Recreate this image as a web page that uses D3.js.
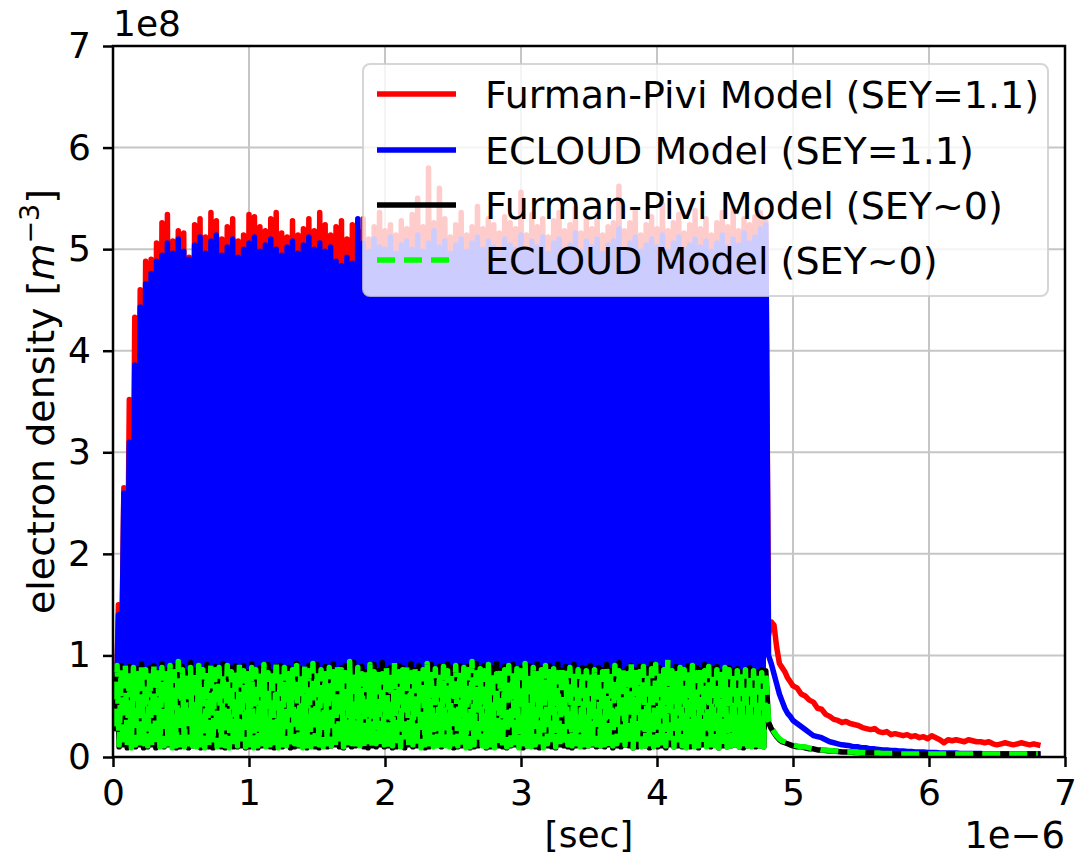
<!DOCTYPE html>
<html><head><meta charset="utf-8">
<script src="https://cdn.jsdelivr.net/npm/d3@7"></script>
<style>body{margin:0;background:#fff;} text{font-family:"DejaVu Sans",sans-serif;}</style>
</head><body><svg id="c" width="1076" height="857"></svg>
<script>
// ---- data (time in 1e-6 s, density in 1e8 m^-3) ----
const xTicks = [0,1,2,3,4,5,6,7];
const yTicks = [0,1,2,3,4,5,6,7];
const seriesNames = ["Furman-Pivi Model (SEY=1.1)","ECLOUD Model (SEY=1.1)","Furman-Pivi Model (SEY~0)","ECLOUD Model (SEY~0)"];
// sampling of the bunch-train part (peak times = start + spacing*i)
const hiStart = 0.04, hiSpacing = 0.04, hiCount = 120;   // SEY=1.1 runs
const loStart = 0.03, loSpacing = 0.03, loCount = 160;   // SEY~0 runs

const redPeaks = [
1.50,2.65,3.52,4.33,4.60,4.88,4.90,5.06,5.26,5.34,
5.08,5.18,5.16,4.92,5.24,5.30,5.12,5.36,5.28,5.10,
5.22,5.30,5.08,5.14,5.34,5.32,5.22,5.18,5.30,5.36,
5.16,5.12,5.28,5.14,5.20,5.30,5.18,5.36,5.24,5.14,
5.22,5.28,5.10,5.24,5.18,5.30,5.10,5.22,5.36,5.18,
5.24,5.14,5.28,5.20,5.34,5.50,5.22,5.80,5.26,5.60,
5.30,5.12,5.24,5.36,5.14,5.22,5.42,5.20,5.30,5.24,
5.16,5.32,5.26,5.20,5.56,5.14,5.34,5.22,5.30,5.12,
5.28,5.36,5.18,5.24,5.40,5.16,5.28,5.20,5.34,5.14,
5.22,5.26,5.62,5.18,5.26,5.38,5.14,5.24,5.32,5.20,
5.44,5.18,5.26,5.34,5.16,5.24,5.38,5.20,5.30,5.14,
5.26,5.36,5.22,5.40,5.18,5.30,5.24,5.32,5.36,5.28];
const redTroughs = [
0.32,0.62,0.70,0.74,0.68,0.76,0.72,0.78,0.70,0.74,
0.77,0.71,0.75,0.69,0.78,0.73,0.70,0.76,0.72,0.74,
0.70,0.77,0.73,0.69,0.75,0.78,0.71,0.74,0.76,0.70,
0.73,0.77,0.70,0.75,0.72,0.78,0.69,0.74,0.76,0.71,
0.75,0.70,0.77,0.73,0.71,0.76,0.74,0.69,0.78,0.72,
0.74,0.71,0.76,0.70,0.77,0.73,0.75,0.69,0.72,0.78,
0.71,0.75,0.73,0.77,0.70,0.74,0.78,0.72,0.69,0.76,
0.73,0.70,0.76,0.74,0.71,0.77,0.69,0.75,0.73,0.78,
0.72,0.76,0.70,0.74,0.78,0.71,0.75,0.73,0.69,0.77,
0.74,0.70,0.77,0.72,0.75,0.69,0.76,0.73,0.78,0.71,
0.75,0.72,0.70,0.77,0.73,0.76,0.71,0.74,0.69,0.78,
0.73,0.76,0.71,0.75,0.70,0.77,0.74,0.72,0.76,0.73];
const bluePeaks = [
1.40,2.60,3.10,3.86,4.43,4.66,4.76,4.88,4.94,5.06,
4.96,5.10,4.98,4.90,5.04,5.12,4.96,5.08,5.14,4.94,
5.02,5.10,4.92,5.00,5.06,5.12,4.98,5.04,5.10,5.00,
4.94,5.02,5.08,4.96,5.04,5.12,5.00,5.06,4.98,5.02,
4.88,4.84,4.92,4.86,5.30,5.06,4.98,5.10,5.02,5.00,
5.12,4.96,5.04,5.08,5.00,5.14,4.98,5.06,5.18,5.02,
5.08,4.96,5.04,5.10,4.98,5.06,5.12,5.00,5.08,5.02,
4.96,5.10,5.04,5.00,5.14,4.98,5.08,5.02,5.12,4.96,
5.06,5.10,5.00,5.04,5.16,4.98,5.08,5.02,5.10,4.96,
5.04,5.08,5.20,5.00,5.06,5.12,4.98,5.04,5.10,5.02,
5.14,4.98,5.06,5.12,5.00,5.04,5.10,5.02,5.08,4.98,
5.06,5.14,5.02,5.10,5.04,5.16,5.06,5.12,5.20,5.24];
const blueTroughs = [
0.30,0.60,0.68,0.72,0.70,0.74,0.71,0.76,0.69,0.73,
0.75,0.70,0.73,0.68,0.76,0.72,0.69,0.74,0.71,0.73,
0.69,0.75,0.72,0.68,0.74,0.76,0.70,0.73,0.75,0.69,
0.72,0.76,0.69,0.74,0.71,0.76,0.68,0.73,0.75,0.70,
0.74,0.69,0.76,0.72,0.70,0.75,0.73,0.68,0.76,0.71,
0.73,0.70,0.75,0.69,0.76,0.72,0.74,0.68,0.71,0.76,
0.70,0.74,0.72,0.76,0.69,0.73,0.76,0.71,0.68,0.75,
0.72,0.69,0.75,0.73,0.70,0.76,0.68,0.74,0.72,0.76,
0.71,0.75,0.69,0.73,0.76,0.70,0.74,0.72,0.68,0.76,
0.73,0.69,0.76,0.71,0.74,0.68,0.75,0.72,0.76,0.70,
0.74,0.71,0.69,0.76,0.72,0.75,0.70,0.73,0.68,0.76,
0.72,0.75,0.70,0.74,0.69,0.76,0.73,0.71,0.75,0.72];
const blackPeaks = [
0.88,0.90,0.86,0.89,0.84,0.87,0.92,0.83,0.88,0.90,
0.84,0.92,0.86,0.88,0.90,0.85,0.89,0.84,0.93,0.86,
0.88,0.84,0.91,0.86,0.89,0.83,0.92,0.85,0.88,0.90,
0.86,0.90,0.84,0.92,0.85,0.88,0.87,0.91,0.84,0.89,
0.90,0.85,0.88,0.84,0.92,0.87,0.83,0.90,0.86,0.91,
0.84,0.89,0.86,0.92,0.85,0.88,0.90,0.84,0.93,0.86,
0.89,0.84,0.87,0.91,0.85,0.93,0.86,0.88,0.84,0.90,
0.88,0.85,0.92,0.86,0.90,0.84,0.88,0.91,0.85,0.89,
0.86,0.92,0.88,0.84,0.90,0.86,0.89,0.85,0.92,0.87,
0.90,0.84,0.88,0.92,0.85,0.89,0.86,0.91,0.84,0.88,
0.86,0.90,0.85,0.92,0.88,0.84,0.90,0.86,0.92,0.85,
0.89,0.86,0.91,0.84,0.88,0.87,0.90,0.85,0.88,0.86,
0.91,0.85,0.88,0.93,0.84,0.87,0.90,0.86,0.89,0.84,
0.87,0.92,0.85,0.88,0.86,0.90,0.84,0.89,0.87,0.85,
0.90,0.84,0.88,0.86,0.91,0.85,0.87,0.89,0.84,0.86,
0.88,0.85,0.87,0.84,0.86,0.88,0.85,0.84,0.86,0.85];
const blackTroughs = [
0.28,0.10,0.12,0.09,0.11,0.10,0.12,0.09,0.10,0.12,
0.09,0.11,0.10,0.12,0.11,0.09,0.10,0.12,0.09,0.11,
0.12,0.09,0.11,0.10,0.09,0.12,0.10,0.09,0.11,0.10,
0.10,0.11,0.09,0.10,0.12,0.09,0.11,0.12,0.10,0.09,
0.11,0.10,0.12,0.09,0.10,0.11,0.12,0.09,0.11,0.10,
0.09,0.12,0.10,0.11,0.12,0.10,0.09,0.12,0.10,0.11,
0.12,0.10,0.09,0.11,0.10,0.12,0.10,0.11,0.09,0.10,
0.11,0.09,0.12,0.10,0.11,0.12,0.09,0.10,0.11,0.12,
0.10,0.12,0.11,0.09,0.10,0.11,0.12,0.09,0.10,0.11,
0.12,0.09,0.10,0.12,0.11,0.10,0.09,0.11,0.12,0.10,
0.09,0.11,0.12,0.10,0.09,0.12,0.11,0.10,0.09,0.12,
0.11,0.10,0.09,0.11,0.12,0.10,0.11,0.12,0.10,0.11,
0.10,0.12,0.09,0.11,0.10,0.12,0.11,0.09,0.10,0.12,
0.11,0.09,0.12,0.10,0.11,0.09,0.12,0.10,0.11,0.10,
0.12,0.10,0.11,0.09,0.12,0.11,0.10,0.12,0.09,0.11,
0.10,0.11,0.12,0.10,0.09,0.11,0.12,0.10,0.11,0.10];
const greenPeaks = [
0.90,0.86,0.92,0.84,0.88,0.82,0.90,0.86,0.84,0.92,
0.86,0.88,0.82,0.90,0.84,0.94,0.86,0.82,0.88,0.84,
0.90,0.86,0.83,0.92,0.86,0.88,0.82,0.90,0.84,0.87,
0.93,0.85,0.82,0.88,0.86,0.84,0.91,0.83,0.87,0.95,
0.84,0.88,0.82,0.86,0.90,0.83,0.89,0.85,0.92,0.84,
0.86,0.82,0.88,0.84,0.90,0.86,0.83,0.94,0.85,0.88,
0.82,0.87,0.91,0.84,0.86,0.82,0.89,0.85,0.93,0.84,
0.86,0.90,0.83,0.88,0.82,0.86,0.92,0.84,0.87,0.83,
0.89,0.85,0.82,0.90,0.84,0.88,0.86,0.94,0.83,0.87,
0.85,0.91,0.84,0.82,0.88,0.86,0.90,0.83,0.87,0.85,
0.92,0.84,0.88,0.82,0.86,0.90,0.84,0.87,0.83,0.89,
0.85,0.88,0.84,0.86,0.83,0.85,0.84,0.86,0.82,0.84,
0.88,0.83,0.90,0.85,0.87,0.82,0.93,0.86,0.84,0.89,
0.83,0.87,0.91,0.84,0.86,0.96,0.85,0.82,0.88,0.86,
0.84,0.90,0.83,0.87,0.85,0.89,0.82,0.86,0.84,0.88,
0.86,0.83,0.85,0.84,0.86,0.82,0.85,0.84,0.83,0.84];
const greenTroughs = [
0.30,0.12,0.10,0.11,0.09,0.12,0.10,0.13,0.11,0.09,
0.12,0.10,0.11,0.13,0.09,0.11,0.12,0.10,0.13,0.11,
0.10,0.12,0.09,0.11,0.13,0.10,0.12,0.11,0.09,0.12,
0.11,0.13,0.10,0.12,0.09,0.11,0.13,0.10,0.12,0.11,
0.09,0.12,0.11,0.10,0.13,0.12,0.09,0.11,0.10,0.13,
0.12,0.10,0.13,0.11,0.09,0.12,0.10,0.11,0.13,0.10,
0.11,0.09,0.12,0.10,0.13,0.11,0.12,0.09,0.11,0.12,
0.10,0.13,0.11,0.12,0.10,0.09,0.12,0.13,0.10,0.11,
0.12,0.11,0.10,0.13,0.11,0.12,0.09,0.10,0.12,0.13,
0.11,0.10,0.12,0.09,0.13,0.11,0.10,0.12,0.11,0.09,
0.13,0.11,0.10,0.12,0.11,0.09,0.13,0.12,0.10,0.11,
0.10,0.12,0.11,0.13,0.10,0.12,0.11,0.10,0.12,0.11,
0.12,0.09,0.11,0.13,0.10,0.12,0.11,0.09,0.12,0.10,
0.11,0.13,0.10,0.12,0.09,0.11,0.12,0.10,0.13,0.11,
0.09,0.12,0.10,0.11,0.13,0.10,0.12,0.11,0.09,0.12,
0.10,0.11,0.12,0.10,0.13,0.11,0.10,0.12,0.11,0.10];

// decay after the bunch train
const tailTimes = [4.82,4.84,4.86,4.88,4.90,4.92,4.94,4.96,4.98,5.00,
  5.03,5.06,5.09,5.12,5.15,5.18,5.21,5.24,5.27,5.30,5.33,5.36,5.39,5.42,5.45,5.48,5.51,5.54,5.57,5.60,
  5.63,5.66,5.69,5.72,5.75,5.78,5.81,5.84,5.87,5.90,5.93,5.96,5.99,6.02,6.05,6.08,6.11,6.14,6.17,6.20,
  6.23,6.26,6.29,6.32,6.35,6.38,6.41,6.44,6.47,6.50,6.53,6.56,6.59,6.62,6.65,6.68,6.71,6.74,6.77,6.80];
const redTail = [1.20,1.33,1.30,1.08,0.92,0.88,0.84,0.78,0.74,0.70,
  0.68,0.62,0.60,0.56,0.54,0.48,0.47,0.42,0.40,0.37,0.36,0.34,0.35,0.33,0.32,0.31,0.29,0.28,0.27,0.28,
  0.25,0.24,0.25,0.22,0.23,0.22,0.21,0.22,0.20,0.21,0.19,0.20,0.18,0.21,0.19,0.17,0.14,0.17,0.16,0.17,
  0.16,0.15,0.17,0.16,0.15,0.15,0.14,0.15,0.13,0.12,0.13,0.14,0.13,0.12,0.13,0.14,0.13,0.12,0.13,0.12];
const blueTail = [1.00,0.92,0.82,0.72,0.62,0.55,0.48,0.43,0.40,0.36,
  0.33,0.30,0.27,0.24,0.21,0.20,0.19,0.17,0.15,0.14,0.13,0.12,0.115,0.11,0.10,0.10,0.09,0.09,0.08,0.08,
  0.075,0.07,0.07,0.065,0.065,0.06,0.06,0.055,0.055,0.05,0.05,0.05,0.045,0.045,0.045,0.04,0.04,0.04,0.04,0.04,
  0.035,0.035,0.035,0.035,0.035,0.035,0.03,0.03,0.03,0.03,0.03,0.03,0.03,0.03,0.03,0.03,0.03,0.03,0.03,0.03];
const blackTail = [0.34,0.28,0.24,0.20,0.17,0.15,0.14,0.13,0.12,0.11,
  0.10,0.10,0.09,0.08,0.08,0.07,0.07,0.065,0.06,0.06,0.055,0.05,0.05,0.05,0.045,0.045,0.04,0.04,0.04,0.04,
  0.035,0.035,0.035,0.035,0.03,0.03,0.03,0.03,0.03,0.03,0.03,0.03,0.03,0.03,0.03,0.03,0.03,0.03,0.03,0.03,
  0.03,0.03,0.03,0.03,0.03,0.03,0.03,0.03,0.03,0.03,0.03,0.03,0.03,0.03,0.03,0.03,0.03,0.03,0.03,0.03];
const greenTail = [0.36,0.30,0.25,0.21,0.18,0.16,0.15,0.14,0.13,0.12,
  0.11,0.10,0.10,0.09,0.08,0.08,0.07,0.07,0.065,0.06,0.06,0.055,0.05,0.05,0.05,0.045,0.045,0.04,0.04,0.04,
  0.04,0.035,0.035,0.035,0.035,0.03,0.03,0.03,0.03,0.03,0.03,0.03,0.03,0.03,0.03,0.03,0.03,0.03,0.03,0.03,
  0.03,0.03,0.03,0.03,0.03,0.03,0.03,0.03,0.03,0.03,0.03,0.03,0.03,0.03,0.03,0.03,0.03,0.03,0.03,0.03];

// ---- drawing ----
const svg = d3.select("#c");
const M = {left:113, right:1065, top:46, bottom:757};
const x = d3.scaleLinear().domain([0,7]).range([M.left, M.right]);
const y = d3.scaleLinear().domain([0,7]).range([M.bottom, M.top]);
const FS = 36, FSL = 38;

svg.append("rect").attr("width",1076).attr("height",857).attr("fill","#fff");
svg.append("clipPath").attr("id","clip").append("rect")
  .attr("x",M.left).attr("y",M.top).attr("width",M.right-M.left).attr("height",M.bottom-M.top);

// grid
const grid = svg.append("g").attr("stroke","#c6c6c6").attr("stroke-width",2);
xTicks.forEach(t=>grid.append("line").attr("x1",x(t)).attr("x2",x(t)).attr("y1",M.top).attr("y2",M.bottom));
yTicks.forEach(t=>grid.append("line").attr("y1",y(t)).attr("y2",y(t)).attr("x1",M.left).attr("x2",M.right));

function buildSeries(start, spacing, count, peaks, troughs, tail){
  const pts = [];
  for (let i=0;i<count;i++){
    const tp = start + spacing*i;
    pts.push([tp - spacing/2, troughs[i]]);
    pts.push([tp, peaks[i]]);
  }
  tailTimes.forEach((t,i)=>pts.push([t, tail[i]]));
  return pts;
}
const line = d3.line().x(d=>x(d[0])).y(d=>y(d[1]));
const series = [
  {pts: buildSeries(hiStart,hiSpacing,hiCount, redPeaks, redTroughs, redTail), color:"#ff0000", dash:null},
  {pts: buildSeries(hiStart,hiSpacing,hiCount, bluePeaks, blueTroughs, blueTail), color:"#0000ff", dash:null},
  {pts: buildSeries(loStart,loSpacing,loCount, blackPeaks, blackTroughs, blackTail), color:"#000000", dash:null},
  {pts: buildSeries(loStart,loSpacing,loCount, greenPeaks, greenTroughs, greenTail), color:"#00ff00", dash:"18,9"}
];
const LW = 5.5;
const plot = svg.append("g").attr("clip-path","url(#clip)");
series.forEach(s=>{
  plot.append("path").attr("d", line(s.pts)).attr("fill","none")
    .attr("stroke", s.color).attr("stroke-width", LW)
    .attr("stroke-linejoin","round").attr("stroke-linecap", s.dash ? "butt" : "square")
    .attr("stroke-dasharray", s.dash);
});

// axes
const xAxis = svg.append("g").attr("transform",`translate(0,${M.bottom})`)
  .call(d3.axisBottom(x).tickValues(xTicks).tickFormat(d3.format("d")).tickSize(10).tickPadding(12).tickSizeOuter(0));
const yAxis = svg.append("g").attr("transform",`translate(${M.left},0)`)
  .call(d3.axisLeft(y).tickValues(yTicks).tickFormat(d3.format("d")).tickSize(10).tickPadding(12).tickSizeOuter(0));
[xAxis,yAxis].forEach(a=>{
  a.select(".domain").remove();
  a.selectAll(".tick line").attr("stroke","#000").attr("stroke-width",2.5);
  a.selectAll(".tick text").attr("font-size",FS).attr("fill","#000").attr("font-family","DejaVu Sans");
});
// spines
svg.append("rect").attr("x",M.left).attr("y",M.top).attr("width",M.right-M.left).attr("height",M.bottom-M.top)
  .attr("fill","none").attr("stroke","#000").attr("stroke-width",2.5);

// offset texts
svg.append("text").attr("x",M.left).attr("y",36).attr("font-size",FS).text("1e8");
svg.append("text").attr("x",M.right).attr("y",848).attr("text-anchor","end").attr("font-size",FS+1).text("1e\u22126");

// axis labels
svg.append("text").attr("x",(M.left+M.right)/2).attr("y",847).attr("text-anchor","middle").attr("font-size",FS).text("[sec]");
const yl = svg.append("text").attr("transform",`translate(54,${(M.top+M.bottom)/2}) rotate(-90)`)
  .attr("text-anchor","middle").attr("font-size",FSL);
yl.append("tspan").text("electron density [");
yl.append("tspan").attr("font-style","italic").text("m");
yl.append("tspan").attr("font-size",27).attr("dy",-15).text("\u22123");
yl.append("tspan").attr("dy",15).text("]");

// legend
const lg = svg.append("g");
lg.append("rect").attr("x",363).attr("y",64).attr("width",685).attr("height",232).attr("rx",7)
  .attr("fill","#fff").attr("fill-opacity",0.8).attr("stroke","#cccccc").attr("stroke-opacity",0.8).attr("stroke-width",2);
const rowY = [94,150,205,260];
series.forEach((s,i)=>{
  lg.append("line").attr("x1",377).attr("x2",456).attr("y1",rowY[i]).attr("y2",rowY[i])
    .attr("stroke",s.color).attr("stroke-width",LW).attr("stroke-dasharray",s.dash);
  lg.append("text").attr("x",485).attr("y",rowY[i]+14).attr("font-size",FSL).text(seriesNames[i]);
});
</script></body></html>
